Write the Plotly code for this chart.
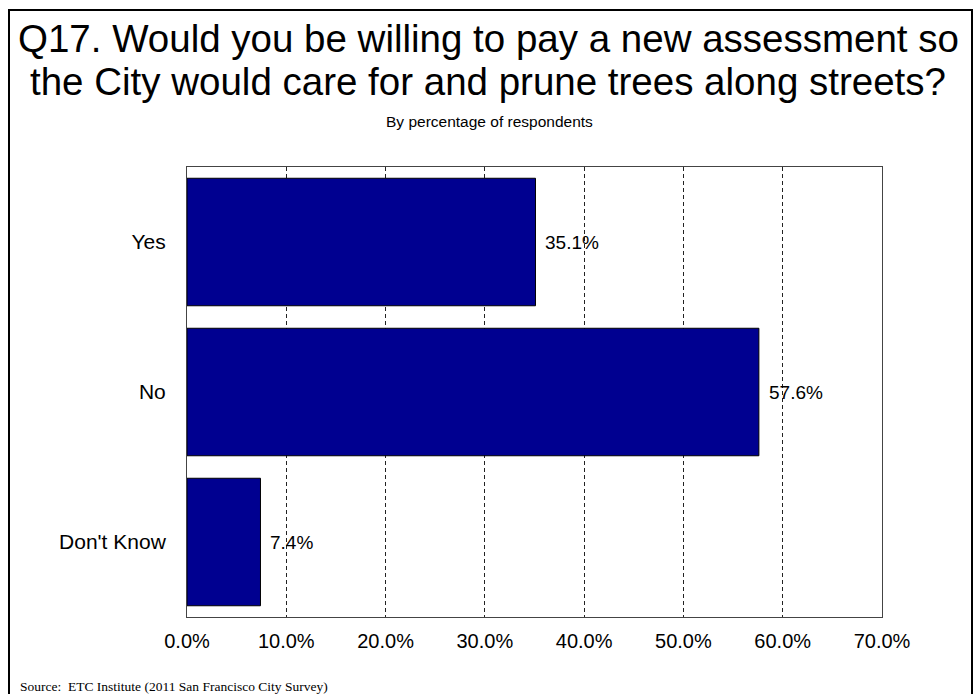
import plotly.graph_objects as go

# Survey responses, Q17
categories = ["Yes", "No", "Don't Know"]
percentages = [35.1, 57.6, 7.4]
tick_values = [0, 10, 20, 30, 40, 50, 60, 70]
tick_labels = ["0.0%", "10.0%", "20.0%", "30.0%", "40.0%", "50.0%", "60.0%", "70.0%"]

W, H = 979, 694
L, R, T, B = 187, 97, 167, 77
pw, ph = W - L - R, H - T - B
FONT = "Liberation Sans, Arial"


def px_x(x):
    return (x - L) / pw


def px_y(y):
    return (H - B - y) / ph


fig = go.Figure()
fig.add_trace(go.Bar(
    y=categories,
    x=percentages,
    orientation="h",
    marker=dict(color="#000090", line=dict(color="#000000", width=1)),
    hoverinfo="skip",
))

annotations = []
# value labels beside each bar
for cat, val in zip(categories, percentages):
    annotations.append(dict(
        x=val, y=cat, xref="x", yref="y",
        text=f"{val:.1f}%", showarrow=False,
        xanchor="left", xshift=8,
        font=dict(family=FONT, size=19, color="#000000"),
    ))

# titles and source note
annotations += [
    dict(xref="paper", yref="paper", x=px_x(488), y=px_y(38),
         text="Q17. Would you be willing to pay a new assessment so",
         showarrow=False, xanchor="center", yanchor="middle",
         font=dict(size=38.5, family=FONT, color="#000000")),
    dict(xref="paper", yref="paper", x=px_x(488), y=px_y(81),
         text="the City would care for and prune trees along streets?",
         showarrow=False, xanchor="center", yanchor="middle",
         font=dict(size=38.5, family=FONT, color="#000000")),
    dict(xref="paper", yref="paper", x=px_x(489), y=px_y(121),
         text="By percentage of respondents",
         showarrow=False, xanchor="center", yanchor="middle",
         font=dict(size=15.5, family=FONT, color="#000000")),
    dict(xref="paper", yref="paper", x=px_x(18), y=px_y(686),
         text="Source:  ETC Institute (2011 San Francisco City Survey)",
         showarrow=False, xanchor="left", yanchor="middle",
         font=dict(size=13.5, family="Liberation Serif, Times New Roman",
                   color="#000000")),
]

fig.update_layout(
    width=W, height=H,
    margin=dict(l=L, r=R, t=T, b=B),
    paper_bgcolor="white",
    plot_bgcolor="white",
    showlegend=False,
    bargap=0.15,
    font=dict(family=FONT, color="#000000"),
    xaxis=dict(
        range=[0, 70],
        tickvals=tick_values,
        ticktext=tick_labels,
        tickfont=dict(size=20),
        showgrid=True,
        gridcolor="#222222",
        griddash="4px,3px",
        gridwidth=1,
        zeroline=False,
        showline=True, linecolor="#444444", linewidth=1, mirror=True,
        ticks="", ticklabelstandoff=6,
    ),
    yaxis=dict(
        categoryorder="array",
        categoryarray=categories[::-1],
        tickfont=dict(size=21),
        showgrid=False,
        showline=True, linecolor="#444444", linewidth=1, mirror=True,
        ticks="", ticklabelstandoff=16,
    ),
    shapes=[
        dict(type="rect", xref="paper", yref="paper",
             x0=px_x(9), x1=px_x(972), y0=px_y(710), y1=px_y(10),
             line=dict(color="#000000", width=2), fillcolor="rgba(0,0,0,0)",
             layer="above"),
    ],
    annotations=annotations,
)

fig.write_html("out.html")
